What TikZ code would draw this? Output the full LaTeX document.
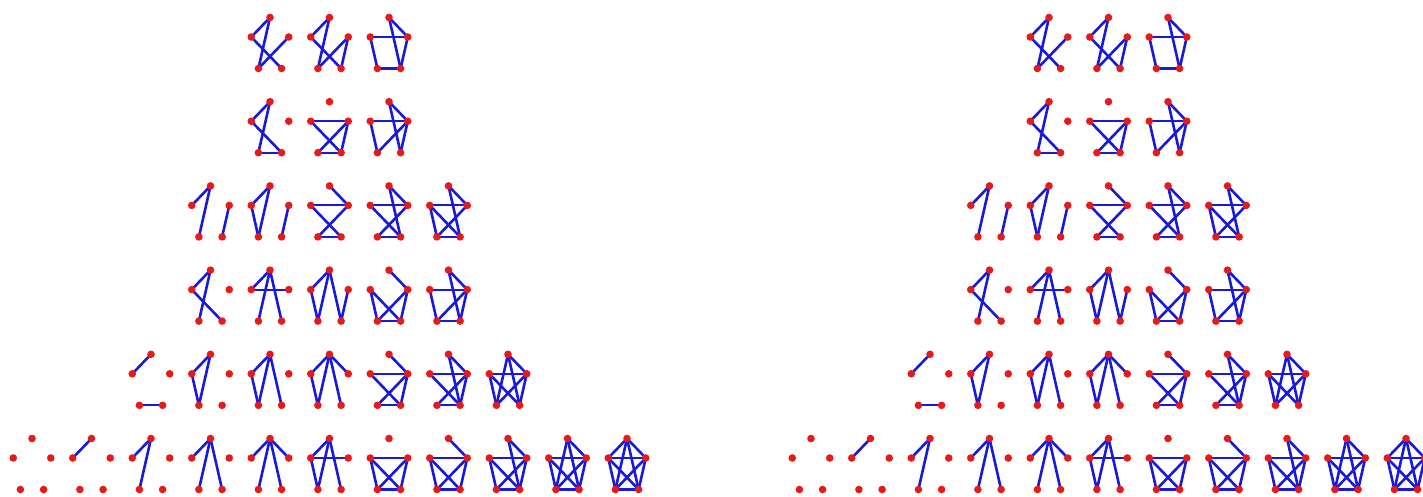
\documentclass[tikz,border=0pt]{standalone}
\pgfdeclarelayer{bg}
\pgfsetlayers{bg,main}
\definecolor{eblue}{RGB}{25,25,220}
\definecolor{vred}{RGB}{232,25,25}
\tikzset{
  vtx/.style={circle,fill=vred,draw=none,inner sep=0pt,minimum size=7.6pt},
  edge/.style={draw=eblue,line width=2.6pt},
  pTL/.style={}, pTR/.style={}, pTBL/.style={}, pTBR/.style={},
  pLBL/.style={}, pLBR/.style={}, pRBL/.style={}, pRBR/.style={},
  pLR/.style={line width=2.1pt}, pBLBR/.style={line width=2.1pt}
}
\newcommand{\gverts}[3]{%
  \node[vtx] (#1T)  at ({#2},{#3}) {};
  \node[vtx] (#1L)  at ({#2-18.75},{#3+19.5}) {};
  \node[vtx] (#1R)  at ({#2+18.75},{#3+19.5}) {};
  \node[vtx] (#1BL) at ({#2-11.6},{#3+51}) {};
  \node[vtx] (#1BR) at ({#2+11.6},{#3+51}) {};
}
\newcommand{\gr}[4]{%
  \gverts{#1}{#2}{#3}
  \begin{pgfonlayer}{bg}
    \foreach \u/\v in {#4} {\draw[edge,p\u\v] (#1\u.center) -- (#1\v.center);}
  \end{pgfonlayer}
}
\newcommand{\side}[2]{%
  % row 1
  \gr{#1a1}{#2+270}{17.5}{T/L,T/BL,L/BR,R/BL}
  \gr{#1a2}{#2+329.5}{17.5}{T/L,T/BL,L/BR,R/BL,R/BR}
  \gr{#1a3}{#2+389}{17.5}{T/R,T/BR,L/R,L/BL,R/BR,BL/BR}
  % row 2
  \gr{#1b1}{#2+270}{101.7}{T/L,T/BL,L/BR,BL/BR}
  \gr{#1b2}{#2+329.5}{101.7}{L/R,L/BR,R/BL,R/BR,BL/BR}
  \gr{#1b3}{#2+389}{101.7}{T/R,T/BR,L/R,L/BL,R/BL,R/BR}
  % row 3
  \gr{#1c1}{#2+210.5}{185.9}{T/L,T/BL,R/BR}
  \gr{#1c2}{#2+270}{185.9}{T/L,T/BL,L/BL,R/BR}
  \gr{#1c3}{#2+329.5}{185.9}{T/R,L/R,L/BR,R/BL,BL/BR}
  \gr{#1c4}{#2+389}{185.9}{T/R,T/BR,L/R,L/BR,R/BL,BL/BR}
  \gr{#1c5}{#2+448.5}{185.9}{T/R,T/BR,L/R,L/BL,L/BR,R/BL,BL/BR}
  % row 4
  \gr{#1d1}{#2+210.5}{270.1}{T/L,T/BL,L/BR}
  \gr{#1d2}{#2+270}{270.1}{T/L,T/BL,T/BR,L/R}
  \gr{#1d3}{#2+329.5}{270.1}{T/L,T/BL,T/BR,L/BL,R/BR}
  \gr{#1d4}{#2+389}{270.1}{T/R,L/BL,L/BR,R/BL,R/BR,BL/BR}
  \gr{#1d5}{#2+448.5}{270.1}{T/R,T/BR,L/R,L/BL,R/BL,R/BR,BL/BR}
  % row 5
  \gr{#1e1}{#2+151}{354.3}{T/L,BL/BR}
  \gr{#1e2}{#2+210.5}{354.3}{T/L,T/BL,L/BL}
  \gr{#1e3}{#2+270}{354.3}{T/L,T/BL,T/BR,L/BL}
  \gr{#1e4}{#2+329.5}{354.3}{T/L,T/R,T/BL,T/BR,L/BL}
  \gr{#1e5}{#2+389}{354.3}{T/R,L/R,L/BR,R/BL,R/BR,BL/BR}
  \gr{#1e6}{#2+448.5}{354.3}{T/R,T/BR,L/R,L/BR,R/BL,R/BR,BL/BR}
  \gr{#1e7}{#2+508}{354.3}{T/R,T/BL,T/BR,L/R,L/BL,L/BR,R/BL,R/BR}
  % row 6
  \gverts{#1f1}{#2+32}{438.5}
  \gr{#1f2}{#2+91.5}{438.5}{T/L}
  \gr{#1f3}{#2+151}{438.5}{T/L,T/BL}
  \gr{#1f4}{#2+210.5}{438.5}{T/L,T/BL,T/BR}
  \gr{#1f5}{#2+270}{438.5}{T/L,T/R,T/BL,T/BR}
  \gr{#1f6}{#2+329.5}{438.5}{T/L,T/BL,T/BR,L/R,L/BL}
  \gr{#1f7}{#2+389}{438.5}{L/R,L/BL,L/BR,R/BL,R/BR,BL/BR}
  \gr{#1f8}{#2+448.5}{438.5}{T/R,L/R,L/BL,L/BR,R/BL,R/BR,BL/BR}
  \gr{#1f9}{#2+508}{438.5}{T/R,T/BR,L/R,L/BL,L/BR,R/BL,R/BR,BL/BR}
  \gr{#1f10}{#2+567.5}{438.5}{T/R,T/BL,T/BR,L/R,L/BL,L/BR,R/BL,R/BR,BL/BR}
  \gr{#1f11}{#2+627}{438.5}{T/L,T/R,T/BL,T/BR,L/R,L/BL,L/BR,R/BL,R/BR,BL/BR}
}
\begin{document}
\begin{tikzpicture}[x=1pt,y=-1pt]
  \useasboundingbox (0,0) rectangle (1423,496);
  \clip (0,0) rectangle (1423,496);
  \side{l}{0}
  \side{r}{779}
\end{tikzpicture}
\end{document}
